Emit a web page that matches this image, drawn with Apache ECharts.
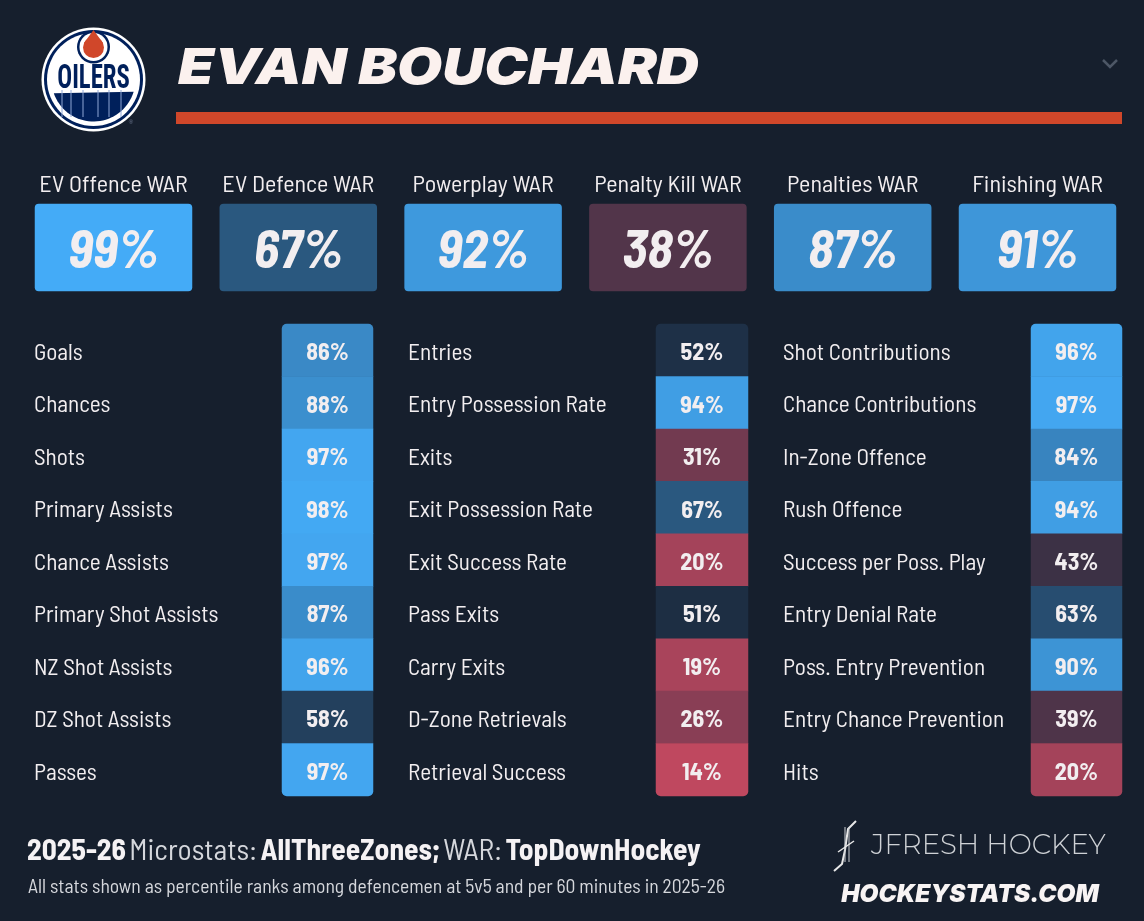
<!DOCTYPE html>
<html lang="en">
<head>
<meta charset="UTF-8" />
<title>Evan Bouchard</title>
<script src="https://cdn.jsdelivr.net/npm/echarts@6/dist/echarts.min.js"></script>
<style>html,body{margin:0;padding:0;background:#161f2d}</style>
</head>
<body>
<div id="main" style="width:1144px;height:921px"></div>
<script>
var playerName = "EVAN BOUCHARD";
var warLabels = ["EV Offence WAR", "EV Defence WAR", "Powerplay WAR", "Penalty Kill WAR", "Penalties WAR", "Finishing WAR"];
var warValues = [99, 67, 92, 38, 87, 91];
var col1Labels = ["Goals", "Chances", "Shots", "Primary Assists", "Chance Assists", "Primary Shot Assists", "NZ Shot Assists", "DZ Shot Assists", "Passes"];
var col1Values = [86, 88, 97, 98, 97, 87, 96, 58, 97];
var col2Labels = ["Entries", "Entry Possession Rate", "Exits", "Exit Possession Rate", "Exit Success Rate", "Pass Exits", "Carry Exits", "D-Zone Retrievals", "Retrieval Success"];
var col2Values = [52, 94, 31, 67, 20, 51, 19, 26, 14];
var col3Labels = ["Shot Contributions", "Chance Contributions", "In-Zone Offence", "Rush Offence", "Success per Poss. Play", "Entry Denial Rate", "Poss. Entry Prevention", "Entry Chance Prevention", "Hits"];
var col3Values = [96, 97, 84, 94, 43, 63, 90, 39, 20];

var bg = "#161f2d";
var textColor = "#f2eef0";
var narrow = "'Barlow Semi Condensed', 'Roboto Condensed', sans-serif";

var grids = [], xAxes = [], yAxes = [], series = [];

function addHeat(left, top, width, height, xCats, yCats, values, opts) {
    var i = grids.length;
    grids.push({ left: left, top: top, width: width, height: height });
    xAxes.push({
        type: "category", gridIndex: i, data: xCats, position: "top",
        axisLine: { show: false }, axisTick: { show: false }, splitLine: { show: false },
        axisLabel: opts.xLabel ? { color: textColor, fontFamily: narrow, fontSize: 24, margin: 8, interval: 0 } : { show: false }
    });
    yAxes.push({
        type: "category", gridIndex: i, data: yCats, inverse: true,
        axisLine: { show: false }, axisTick: { show: false }, splitLine: { show: false },
        axisLabel: opts.yLabel ? {
            align: "left", margin: opts.yLabel, interval: 0,
            formatter: "{a|{value}}",
            // rich padding nudges the text down to the row's optical centre
            rich: { a: { color: textColor, fontFamily: narrow, fontSize: 23.2, padding: [4, 0, 0, 0] } }
        } : { show: false }
    });
    series.push({
        type: "heatmap", xAxisIndex: i, yAxisIndex: i,
        data: values.map(function (v, k) {
            var r = opts.radius;
            if (values.length > 1) r = k === 0 ? [r, r, 0, 0] : k === values.length - 1 ? [0, 0, r, r] : 0;
            return { value: [0, k, v], itemStyle: { borderRadius: r } };
        }),
        label: {
            show: true, color: textColor, fontFamily: narrow, fontWeight: "bold",
            fontSize: opts.valueSize, fontStyle: opts.valueStyle || "normal",
            offset: [0, opts.valueShift],
            formatter: function (p) { return p.value[2] + "%"; }
        },
        emphasis: { disabled: true }
    });
}

warLabels.forEach(function (name, i) {
    addHeat(35 + i * 184.8, 204, 157, 87, [name], [""], [warValues[i]], { xLabel: true, radius: 4, valueSize: 53, valueStyle: "italic", valueShift: 3 });
});
addHeat(282, 324, 91, 472, [""], col1Labels, col1Values, { yLabel: 248, radius: 5, valueSize: 24, valueShift: 2 });
addHeat(656, 324, 92, 472, [""], col2Labels, col2Values, { yLabel: 248, radius: 5, valueSize: 24, valueShift: 2 });
addHeat(1031, 324, 91, 472, [""], col3Labels, col3Values, { yLabel: 248, radius: 5, valueSize: 24, valueShift: 2 });

// logo pieces
var navy = "#00205b";
var bowl = [];
for (var a = 17; a <= 163; a += 4) {
    bowl.push([93.5 + 42 * Math.cos(a * Math.PI / 180), 79.5 + 42 * Math.sin(a * Math.PI / 180)]);
}
var stripes = [62, 71, 83, 98, 109, 121].map(function (x) {
    return { type: "line", shape: { x1: x, y1: 90, x2: x, y2: 117 }, style: { stroke: "#8ea6d6", lineWidth: 1 } };
});

var mCharts = echarts.init(document.getElementById("main"));
mCharts.setOption({
    animation: false,
    backgroundColor: bg,
    grid: grids, xAxis: xAxes, yAxis: yAxes, series: series,
    visualMap: {
        show: false, type: "continuous", min: 0, max: 100, dimension: 2,
        inRange: { color: ["#ff536c", "#1c2b3f", "#45aefb"] }
    },
    graphic: [
        { type: "circle", shape: { cx: 93.5, cy: 79.5, r: 52 }, style: { fill: "#ffffff" } },
        { type: "circle", shape: { cx: 93.5, cy: 79.5, r: 49.5 }, style: { fill: navy } },
        { type: "circle", shape: { cx: 93.5, cy: 79.5, r: 46.5 }, style: { fill: "#ffffff" } },
        { type: "polygon", shape: { points: bowl }, style: { fill: navy } },
        { type: "circle", shape: { cx: 93.5, cy: 47, r: 16.5 }, style: { fill: navy } },
        { type: "circle", shape: { cx: 93.5, cy: 47, r: 14 }, style: { fill: "#ffffff" } },
        { type: "circle", shape: { cx: 93.5, cy: 47.5, r: 10.5 }, style: { fill: "#d0472a" } },
        { type: "polygon", shape: { points: [[93.5, 30], [84, 43], [103, 43]] }, style: { fill: "#d0472a" } },
        { type: "text", x: 93.5, y: 80, scaleX: 0.95, scaleY: 1.25, style: { x: 0, y: 0, text: "OILERS", fill: navy, font: "bold 26px 'Roboto Condensed', sans-serif", align: "center", verticalAlign: "middle" } },
        { type: "group", children: stripes },
        { type: "text", style: { x: 131, y: 122, text: "®", fill: "#6d7891", font: "6px sans-serif", align: "center", verticalAlign: "middle" } },
        // header
        { type: "text", x: 178, y: 69, scaleX: 1.165, style: { x: 0, y: 0, text: playerName, fill: "#fbf1ee", font: "italic 900 50px Inter, 'Liberation Sans', sans-serif", verticalAlign: "middle" } },
        { type: "rect", shape: { x: 176, y: 112, width: 946, height: 12 }, style: { fill: "#d0472a" } },
        { type: "polyline", shape: { points: [[1103, 60], [1110, 67], [1117, 60]] }, style: { stroke: "#4d5766", lineWidth: 2.5, fill: null } },
        // footer
        { type: "text", style: { x: 27, y: 850, verticalAlign: "middle", text: "{b|2025-26} {n|Microstats:} {b|AllThreeZones;} {n|WAR:} {b|TopDownHockey}",
            rich: { b: { fill: "#f5f2f4", font: "bold 29.5px " + narrow }, n: { fill: "#d5d7dc", font: "29.5px " + narrow } } } },
        { type: "text", style: { x: 28, y: 886, verticalAlign: "middle", text: "All stats shown as percentile ranks among defencemen at 5v5 and per 60 minutes in 2025-26", fill: "#d5d7dc", font: "19.6px " + narrow } },
        { type: "text", style: { x: 871, y: 846, verticalAlign: "middle", text: "JFRESH HOCKEY", fill: "#cfd2d6", font: "300 27.5px Montserrat, sans-serif" } },
        { type: "text", style: { x: 970, y: 895, align: "center", verticalAlign: "middle", text: "HOCKEYSTATS.COM", fill: "#f8f4f4", font: "italic 900 24.4px Inter, 'Liberation Sans', sans-serif" } },
        // stick mark
        { type: "polyline", shape: { points: [[856, 821], [848, 829], [845, 850], [842, 864], [834, 871]] }, style: { stroke: "#e8e8e8", lineWidth: 2, fill: null } },
        { type: "line", shape: { x1: 845, y1: 827, x2: 845, y2: 862 }, style: { stroke: "#cfd2d6", lineWidth: 1 } },
        { type: "line", shape: { x1: 849, y1: 827, x2: 849, y2: 862 }, style: { stroke: "#cfd2d6", lineWidth: 1 } },
        { type: "line", shape: { x1: 838, y1: 852, x2: 854, y2: 841 }, style: { stroke: "#e8e8e8", lineWidth: 1.5 } }
    ]
});
</script>
</body>
</html>
